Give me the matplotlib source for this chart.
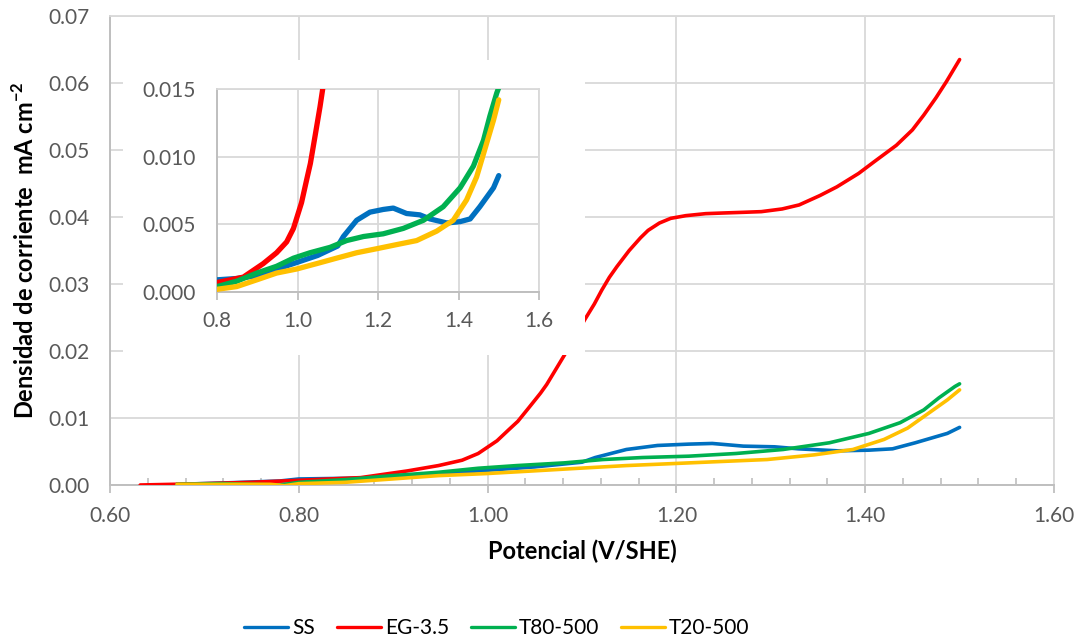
import matplotlib
matplotlib.use("Agg")
import matplotlib.pyplot as plt
from matplotlib.ticker import MultipleLocator, FormatStrFormatter

# Polarisation curves: current density (mA cm-2) vs potential (V/SHE)
v_ss = [0.671, 0.72, 0.78, 0.80, 0.85, 0.90, 0.95, 1.00, 1.05, 1.10, 1.114, 1.147,
        1.18, 1.213, 1.238, 1.271, 1.304, 1.329, 1.371, 1.404, 1.429, 1.453, 1.470,
        1.487, 1.500]
i_ss = [0.0001, 0.0003, 0.0006, 0.0009, 0.0010, 0.0012, 0.0017, 0.0022, 0.0027,
        0.0034, 0.0041, 0.0053, 0.0059, 0.0061, 0.0062, 0.0058, 0.0057, 0.0054,
        0.0051, 0.0052, 0.0054, 0.0063, 0.0070, 0.0077, 0.0086]

v_eg = [0.632, 0.70, 0.75, 0.80, 0.8654, 0.915, 0.948, 0.973, 0.990, 1.010, 1.0228,
        1.032, 1.0435, 1.056, 1.0626, 1.081, 1.09, 1.103, 1.113, 1.121, 1.129, 1.137,
        1.150, 1.162, 1.170, 1.182, 1.194, 1.210, 1.231, 1.25, 1.271, 1.29, 1.312,
        1.33, 1.352, 1.37, 1.393, 1.41, 1.433, 1.45, 1.462, 1.475, 1.486, 1.500]
i_eg = [0.0000, 0.0002, 0.0004, 0.0007, 0.0011, 0.0021, 0.0029, 0.0037, 0.0047,
        0.0066, 0.0083, 0.0095, 0.0115, 0.0137, 0.0150, 0.0193, 0.0215, 0.0247,
        0.0270, 0.0291, 0.0310, 0.0326, 0.0350, 0.0369, 0.0380, 0.0391, 0.0398,
        0.0402, 0.0405, 0.0406, 0.0407, 0.0408, 0.0412, 0.0418, 0.0432, 0.0445,
        0.0465, 0.0483, 0.0507, 0.0530, 0.0552, 0.0578, 0.0602, 0.0635]

v_t80 = [0.671, 0.72, 0.78, 0.80, 0.849, 0.899, 0.948, 0.99, 1.031, 1.081, 1.122,
         1.164, 1.213, 1.263, 1.313, 1.362, 1.404, 1.437, 1.462, 1.478, 1.495, 1.500]
i_t80 = [0.0001, 0.0002, 0.0000, 0.0004, 0.0008, 0.0014, 0.0019, 0.0025, 0.0029,
         0.0033, 0.0038, 0.0041, 0.0043, 0.0047, 0.0053, 0.0063, 0.0077, 0.0093,
         0.0112, 0.0130, 0.0147, 0.0151]

v_t20 = [0.671, 0.72, 0.77, 0.785, 0.80, 0.849, 0.899, 0.948, 0.998, 1.048, 1.097,
         1.147, 1.197, 1.246, 1.296, 1.346, 1.387, 1.420, 1.445, 1.470, 1.487, 1.500]
i_t20 = [0.0001, 0.0001, 0.0001, -0.0001, 0.0002, 0.0004, 0.0009, 0.0014, 0.0017,
         0.0021, 0.0025, 0.0029, 0.0032, 0.0035, 0.0038, 0.0045, 0.0053, 0.0068,
         0.0085, 0.0110, 0.0127, 0.0142]

series = [
    ("SS", v_ss, i_ss, "#0070C0"),
    ("EG-3.5", v_eg, i_eg, "#FF0000"),
    ("T80-500", v_t80, i_t80, "#00B050"),
    ("T20-500", v_t20, i_t20, "#FFC000"),
]

main_xticks = [0.60, 0.80, 1.00, 1.20, 1.40, 1.60]
main_yticks = [0.00, 0.01, 0.02, 0.03, 0.04, 0.05, 0.06, 0.07]
inset_xticks = [0.8, 1.0, 1.2, 1.4, 1.6]
inset_yticks = [0.000, 0.005, 0.010, 0.015]

plt.rcParams["font.family"] = ["Lato", "DejaVu Sans"]
plt.rcParams["mathtext.fontset"] = "custom"
plt.rcParams["mathtext.rm"] = "Lato"
plt.rcParams["mathtext.bf"] = "Lato:bold"

GRID = "#D9D9D9"
SPINE = "#BFBFBF"
TICKTXT = "#595959"
TICKSIZE = 15

W, H = 1080, 640
fig = plt.figure(figsize=(W / 100, H / 100), dpi=100)


def frac(x0, y0, x1, y1):
    return [x0 / W, 1 - y1 / H, (x1 - x0) / W, (y1 - y0) / H]


def style_axes(ax, xticks, yticks, xfmt, yfmt, xpad, ypad):
    ax.set_xticks(xticks)
    ax.set_yticks(yticks)
    ax.xaxis.set_major_formatter(FormatStrFormatter(xfmt))
    ax.yaxis.set_major_formatter(FormatStrFormatter(yfmt))
    ax.grid(True, color=GRID, linewidth=1.3, zorder=0)
    ax.set_axisbelow(True)
    for side in ("top", "right"):
        ax.spines[side].set_color(GRID)
        ax.spines[side].set_linewidth(1.3)
    for side in ("left", "bottom"):
        ax.spines[side].set_color(SPINE)
        ax.spines[side].set_linewidth(1.4)
    ax.tick_params(axis="y", length=0, pad=ypad, labelsize=TICKSIZE, labelcolor=TICKTXT)
    ax.tick_params(axis="x", which="major", direction="out", length=6, width=1.3,
                   color=SPINE, pad=xpad, labelsize=TICKSIZE, labelcolor=TICKTXT)


# Main axes
ax = fig.add_axes(frac(110, 16, 1054, 485))
for name, v, i, c in series:
    ax.plot(v, i, color=c, lw=2.6, label=name, solid_capstyle="round",
            solid_joinstyle="round", zorder=3)
ax.set_xlim(0.60, 1.60)
ax.set_ylim(0.0, 0.07)
style_axes(ax, main_xticks, main_yticks, "%.2f", "%.2f", xpad=9, ypad=15)
ax.xaxis.set_minor_locator(MultipleLocator(0.04))
ax.tick_params(axis="x", which="minor", direction="in", length=5, width=1.2, color=SPINE)
ax.set_xlabel("Potencial (V/SHE)", fontsize=17, fontweight="bold", labelpad=10)
ax.set_ylabel(r"Densidad de corriente  mA cm$^{\mathbf{-2}}$", fontsize=17,
              fontweight="bold", labelpad=7)

# White panel holding the zoomed view
panel = fig.add_axes(frac(123, 60, 585, 355))
panel.set_facecolor("white")
panel.set_xticks([])
panel.set_yticks([])
for s in panel.spines.values():
    s.set_visible(False)

# Inset: low-current region
axi = fig.add_axes(frac(217, 89, 539, 292))
for name, v, i, c in series:
    axi.plot(v, i, color=c, lw=3.8, solid_capstyle="round",
             solid_joinstyle="round", zorder=3)
axi.set_xlim(0.8, 1.6)
axi.set_ylim(0.0, 0.015)
style_axes(axi, inset_xticks, inset_yticks, "%.1f", "%.3f", xpad=8, ypad=15)

# Legend below the plot
handles, labels = ax.get_legend_handles_labels()
leg = fig.legend(handles, labels, loc="center", bbox_to_anchor=(497 / W, 1 - 628 / H),
                 ncol=4, frameon=False, fontsize=15, handlelength=2.1,
                 handletextpad=0.2, columnspacing=1.05)
for ln in leg.get_lines():
    ln.set_linewidth(2.4)

fig.savefig("out.png", dpi=100)
